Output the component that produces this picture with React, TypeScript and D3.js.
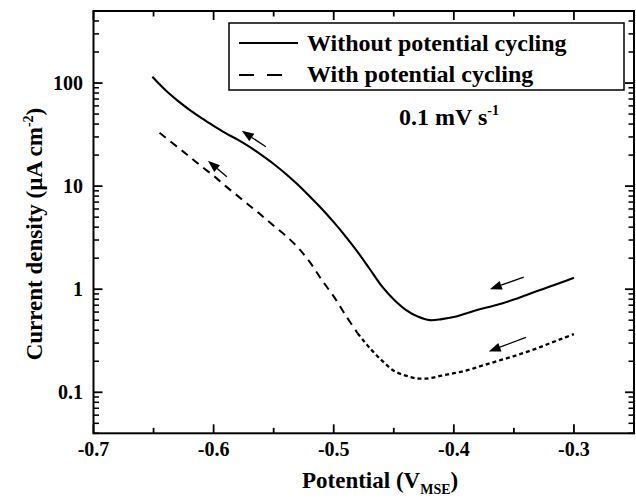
import React, { useEffect } from "react";
import * as d3 from "d3";

// Potential (V_MSE) and current density (µA cm^-2)
const solidX = [-0.651, -0.64, -0.63, -0.62, -0.61, -0.6, -0.59, -0.58, -0.57, -0.56, -0.55, -0.54, -0.53, -0.52, -0.51, -0.5, -0.49, -0.48, -0.47, -0.46, -0.45, -0.44, -0.43, -0.42, -0.41, -0.4, -0.39, -0.38, -0.37, -0.36, -0.35, -0.34, -0.33, -0.32, -0.31, -0.3];
const solidY = [115, 85.1, 67.6, 55.0, 45.7, 38.5, 32.7, 28.2, 24.0, 19.95, 16.4, 13.2, 10.35, 7.94, 6.03, 4.47, 3.24, 2.29, 1.57, 1.07, 0.794, 0.631, 0.543, 0.501, 0.513, 0.537, 0.582, 0.631, 0.676, 0.728, 0.794, 0.875, 0.964, 1.064, 1.17, 1.29];

const dashX = [-0.645, -0.63, -0.62, -0.61, -0.6, -0.59, -0.58, -0.57, -0.56, -0.55, -0.54, -0.53, -0.52, -0.51, -0.5, -0.49, -0.48, -0.47, -0.46, -0.45, -0.44, -0.43, -0.42, -0.41, -0.4, -0.39, -0.38, -0.37, -0.36, -0.35, -0.34, -0.33, -0.32, -0.31, -0.3];
const dashY = [32.9, 23.9, 19.3, 15.5, 12.6, 10.0, 8.04, 6.46, 5.19, 4.12, 3.31, 2.55, 1.84, 1.23, 0.851, 0.556, 0.372, 0.269, 0.204, 0.162, 0.145, 0.136, 0.137, 0.145, 0.153, 0.162, 0.176, 0.191, 0.207, 0.224, 0.245, 0.269, 0.299, 0.331, 0.367];

// index where the dashed curve turns into short dashes
const dashSplit = 16;

const xTicksMajor = [-0.7, -0.6, -0.5, -0.4, -0.3];
const xTickLabels = ["-0.7", "-0.6", "-0.5", "-0.4", "-0.3"];
const xTicksMinor = [-0.65, -0.55, -0.45, -0.35];
const yTicksMajor = [0.1, 1, 10, 100];
const yTickLabels = ["0.1", "1", "10", "100"];

// arrows: [tailX, tailY, tipX, tipY] in data units
const arrows = [
  [-0.5565, 24.1, -0.5765, 34.4],
  [-0.589, 12.3, -0.6047, 17.6],
  [-0.3418, 1.31, -0.37, 1.0],
  [-0.34, 0.341, -0.371, 0.249],
];

const legendLabels = ["Without potential cycling", "With potential cycling"];

const FONT = "'Liberation Serif', 'Times New Roman', serif";

export default function App() {
  useEffect(() => {
    document.body.style.margin = "0";
  }, []);

  const W = 636, H = 498;
  const left = 93.5, right = 634, top = 11, bottom = 433.3;
  const x = d3.scaleLinear().domain([-0.7, -0.25]).range([left, right]);
  const y = d3.scaleLog().domain([0.04, 500]).range([bottom, top]);

  const yMinor: number[] = [];
  [0.01, 0.1, 1, 10, 100].forEach((d) => {
    for (let k = 2; k <= 9; k++) {
      const v = d * k;
      if (v >= 0.04 && v <= 500) yMinor.push(v);
    }
  });

  const line = d3
    .line<[number, number]>()
    .x((d) => x(d[0]))
    .y((d) => y(d[1]))
    .curve(d3.curveCatmullRom.alpha(0.5));

  const solidPts = solidX.map((v, i) => [v, solidY[i]] as [number, number]);
  const dashPts = dashX.map((v, i) => [v, dashY[i]] as [number, number]);
  const dashA = dashPts.slice(0, dashSplit + 1);
  const dashB = dashPts.slice(dashSplit);

  const majLen = 9, minLen = 5.5;
  const sw = 1.8;

  return (
    <svg width={W} height={H} style={{ position: "absolute", left: 0, top: 0, display: "block", background: "#fff" }} fontFamily={FONT} fontWeight="bold">
      {/* curves */}
      <path d={line(solidPts) || ""} fill="none" stroke="#000" strokeWidth={2.1} />
      <path d={line(dashA) || ""} fill="none" stroke="#000" strokeWidth={2} strokeDasharray="8,6" />
      <path d={line(dashB) || ""} fill="none" stroke="#000" strokeWidth={2.3} strokeDasharray="4,3" />

      {/* arrows */}
      {arrows.map((a, i) => {
        const x1 = x(a[0]), y1 = y(a[1]), x2 = x(a[2]), y2 = y(a[3]);
        const dx = x2 - x1, dy = y2 - y1;
        const L = Math.hypot(dx, dy);
        const ux = dx / L, uy = dy / L;
        const hl = 12, hw = 4.5;
        const bx = x2 - ux * hl, by = y2 - uy * hl;
        const p1 = `${x2},${y2}`;
        const p2 = `${bx - uy * hw},${by + ux * hw}`;
        const p3 = `${bx + uy * hw},${by - ux * hw}`;
        return (
          <g key={i}>
            <line x1={x1} y1={y1} x2={bx} y2={by} stroke="#000" strokeWidth={1.3} />
            <polygon points={`${p1} ${p2} ${p3}`} fill="#000" />
          </g>
        );
      })}

      {/* frame */}
      <rect x={left} y={top} width={right - left} height={bottom - top} fill="none" stroke="#000" strokeWidth={2} />

      {/* x ticks */}
      {xTicksMajor.map((t) => (
        <g key={"xM" + t}>
          <line x1={x(t)} x2={x(t)} y1={bottom} y2={bottom - majLen} stroke="#000" strokeWidth={sw} />
          <line x1={x(t)} x2={x(t)} y1={top} y2={top + majLen} stroke="#000" strokeWidth={sw} />
        </g>
      ))}
      {xTicksMinor.map((t) => (
        <g key={"xm" + t}>
          <line x1={x(t)} x2={x(t)} y1={bottom} y2={bottom - minLen} stroke="#000" strokeWidth={sw} />
          <line x1={x(t)} x2={x(t)} y1={top} y2={top + minLen} stroke="#000" strokeWidth={sw} />
        </g>
      ))}
      {xTicksMajor.map((t, i) => (
        <text key={"xl" + t} x={x(t)} y={456} textAnchor="middle" fontSize={20}>
          {xTickLabels[i]}
        </text>
      ))}

      {/* y ticks */}
      {yTicksMajor.map((t) => (
        <g key={"yM" + t}>
          <line x1={left} x2={left + majLen} y1={y(t)} y2={y(t)} stroke="#000" strokeWidth={sw} />
          <line x1={right} x2={right - majLen} y1={y(t)} y2={y(t)} stroke="#000" strokeWidth={sw} />
        </g>
      ))}
      {yMinor.map((t) => (
        <g key={"ym" + t}>
          <line x1={left} x2={left + minLen} y1={y(t)} y2={y(t)} stroke="#000" strokeWidth={sw * 0.85} />
          <line x1={right} x2={right - minLen} y1={y(t)} y2={y(t)} stroke="#000" strokeWidth={sw * 0.85} />
        </g>
      ))}
      {yTicksMajor.map((t, i) => (
        <text key={"yl" + t} x={83} y={y(t)} dy="0.36em" textAnchor="end" fontSize={20}>
          {yTickLabels[i]}
        </text>
      ))}

      {/* axis titles */}
      <text x={302} y={488} fontSize={23}>
        Potential (V<tspan fontSize={14} dy={6}>MSE</tspan><tspan dy={-6}>)</tspan>
      </text>
      <text transform={`translate(42,234) rotate(-90)`} textAnchor="middle" fontSize={23}>
        Current density (µA cm<tspan fontSize={14} dy={-9}>-2</tspan><tspan dy={9}>)</tspan>
      </text>

      {/* legend */}
      <rect x={229} y={23} width={395} height={67} fill="none" stroke="#000" strokeWidth={1.5} />
      <line x1={239} x2={298} y1={43} y2={43} stroke="#000" strokeWidth={2} />
      <line x1={239} x2={283} y1={75} y2={75} stroke="#000" strokeWidth={2} strokeDasharray="15,13" />
      <text x={307} y={51} fontSize={24}>{legendLabels[0]}</text>
      <text x={307} y={82} fontSize={24}>{legendLabels[1]}</text>

      {/* scan rate */}
      <text x={399} y={125} fontSize={24}>
        0.1 mV s<tspan fontSize={14} dy={-10}>-1</tspan>
      </text>
    </svg>
  );
}
